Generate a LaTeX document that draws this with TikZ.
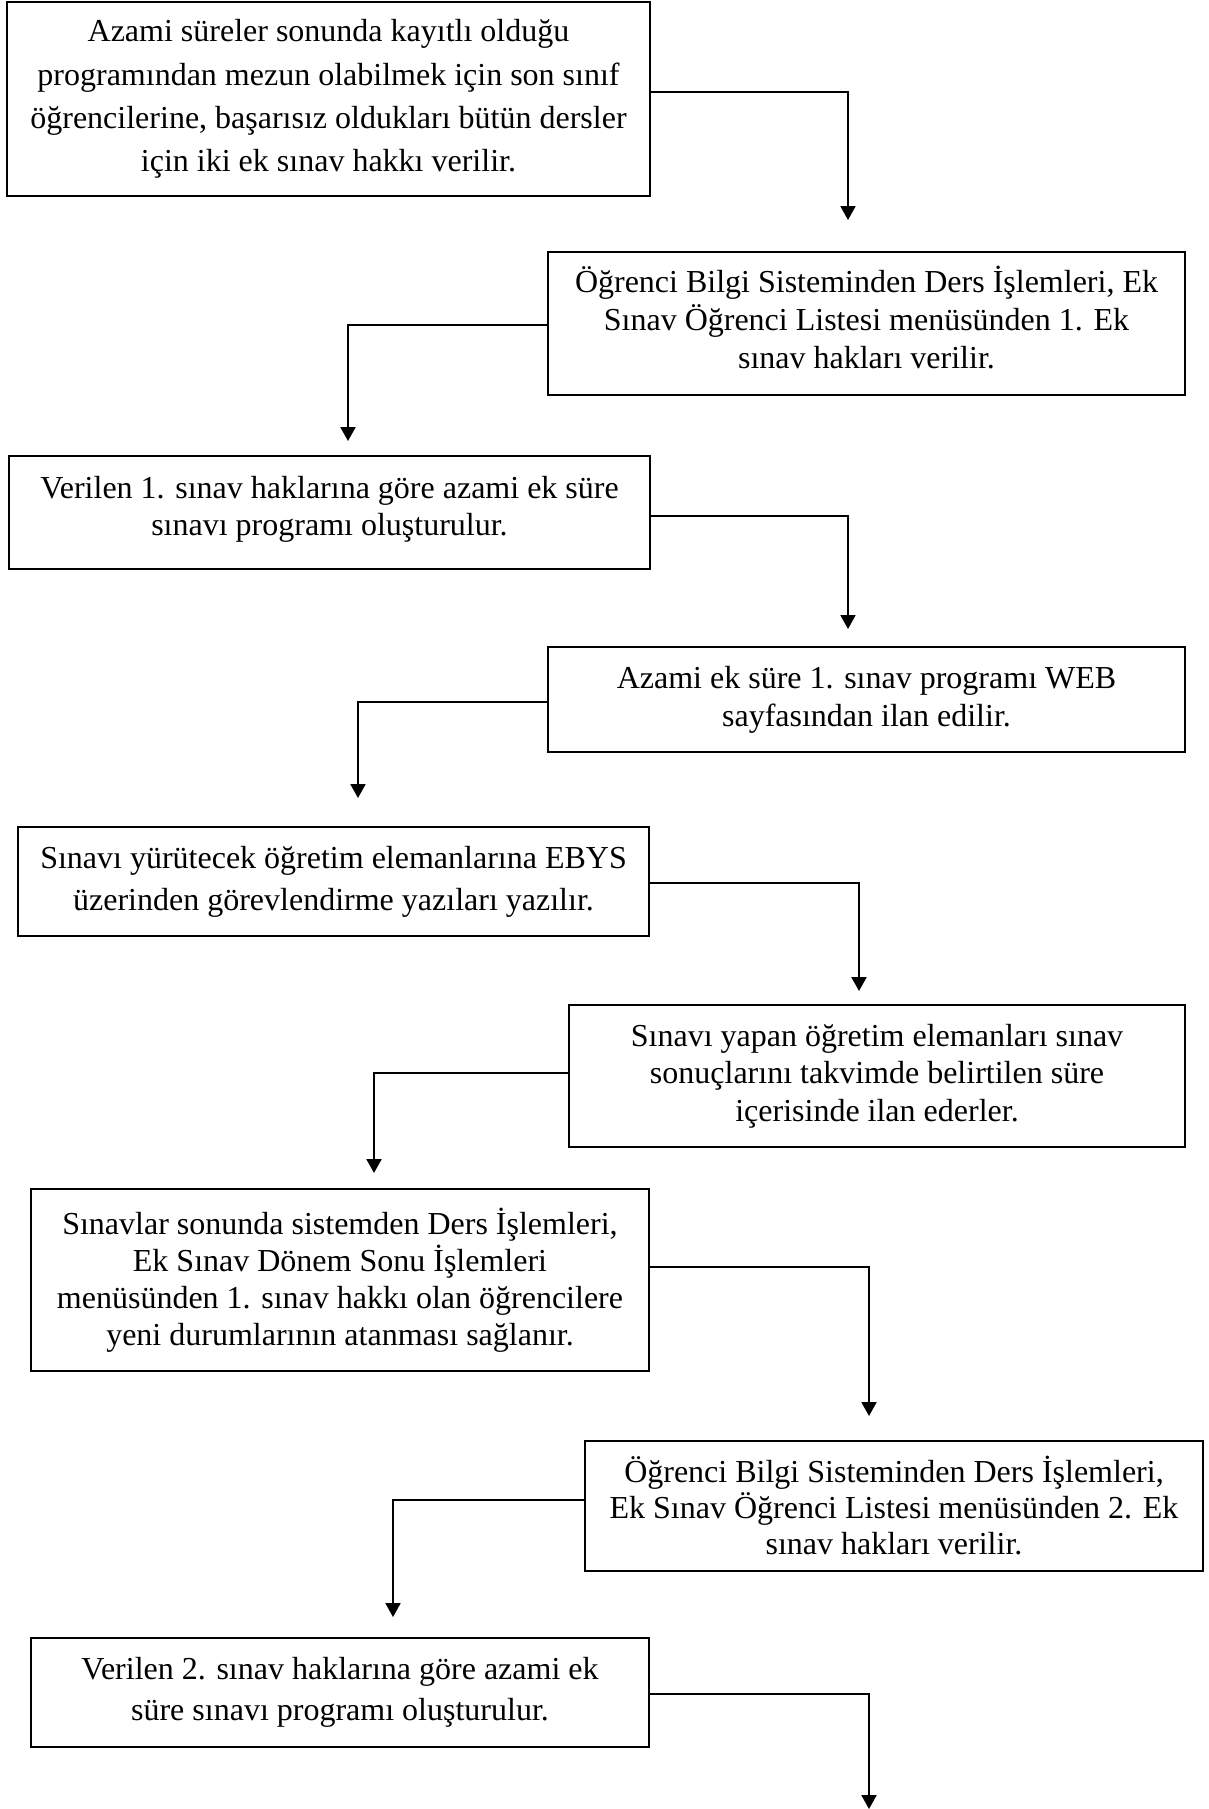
\documentclass[tikz,border=0pt]{standalone}
\usepackage{fontspec}
\setmainfont{Liberation Serif}
\usetikzlibrary{arrows.meta}
\newcommand{\lift}[1]{\rule[-#1]{0pt}{0pt}}
\begin{document}
\begin{tikzpicture}[x=0.375pt,y=-0.375pt,
  procbox/.style={draw=black,line width=0.9pt,inner sep=0pt,align=center,fill=white},
  lskip/.style={font=\fontsize{12pt}{#1}\selectfont},
  arr/.style={line width=0.75pt,-{Triangle[width=5.6pt,length=5.2pt]}}]
\useasboundingbox (0,0) rectangle (1208,1809);
\node[procbox,lskip=16.2pt,minimum width=241.1pt,minimum height=72.75pt] (b1) at (328.5,99)
 {Azami süreler sonunda kayıtlı olduğu\\programından mezun olabilmek için son sınıf\\öğrencilerine, başarısız oldukları bütün dersler\\için iki ek sınav hakkı verilir.};
\node[procbox,lskip=14.2pt,minimum width=238.9pt,minimum height=53.6pt] (b2) at (866.5,323.5)
 {Öğrenci Bilgi Sisteminden Ders İşlemleri, Ek\\Sınav Öğrenci Listesi menüsünden 1. Ek\\sınav hakları verilir.\lift{4.8pt}};
\node[procbox,lskip=13.8pt,minimum width=240.4pt,minimum height=42.4pt] (b3) at (329.5,512.5)
 {Verilen 1. sınav haklarına göre azami ek süre\\sınavı programı oluşturulur.\lift{5.2pt}};
\node[procbox,lskip=14.2pt,minimum width=238.9pt,minimum height=39.4pt] (b4) at (866.5,699.5)
 {Azami ek süre 1. sınav programı WEB\\sayfasından ilan edilir.};
\node[procbox,lskip=15.8pt,minimum width=236.6pt,minimum height=40.9pt] (b5) at (333.5,881.5)
 {Sınavı yürütecek öğretim elemanlarına EBYS\\üzerinden görevlendirme yazıları yazılır.};
\node[procbox,lskip=14.0pt,minimum width=231pt,minimum height=53.25pt] (b6) at (877,1076)
 {Sınavı yapan öğretim elemanları sınav\\sonuçlarını takvimde belirtilen süre\\içerisinde ilan ederler.};
\node[procbox,lskip=13.9pt,minimum width=231.75pt,minimum height=68.25pt] (b7) at (340,1280)
 {Sınavlar sonunda sistemden Ders İşlemleri,\\Ek Sınav Dönem Sonu İşlemleri\\menüsünden 1. sınav hakkı olan öğrencilere\\yeni durumlarının atanması sağlanır.};
\node[procbox,lskip=13.5pt,minimum width=231.75pt,minimum height=48.75pt] (b8) at (894,1506)
 {Öğrenci Bilgi Sisteminden Ders İşlemleri,\\Ek Sınav Öğrenci Listesi menüsünden 2. Ek\\sınav hakları verilir.};
\node[procbox,lskip=15.5pt,minimum width=231.75pt,minimum height=40.9pt] (b9) at (340,1692.5)
 {Verilen 2. sınav haklarına göre azami ek\\süre sınavı programı oluşturulur.};
\coordinate (e1) at (848,220);
\coordinate (e2) at (348,441);
\coordinate (e3) at (848,629);
\coordinate (e4) at (358,798);
\coordinate (e5) at (859,991);
\coordinate (e6) at (374,1173);
\coordinate (e7) at (869,1416);
\coordinate (e8) at (393,1617);
\coordinate (e9) at (869,1809);
\draw[arr] ([yshift=2.6pt]b1.east) -| (e1);
\draw[arr] ([yshift=-0.6pt]b2.west) -| (e2);
\draw[arr] ([yshift=-1.3pt]b3.east) -| (e3);
\draw[arr] ([yshift=-0.9pt]b4.west) -| (e4);
\draw[arr] ([yshift=-0.6pt]b5.east) -| (e5);
\draw[arr] ([yshift=1.1pt]b6.west) -| (e6);
\draw[arr] ([yshift=4.9pt]b7.east) -| (e7);
\draw[arr] ([yshift=2.2pt]b8.west) -| (e8);
\draw[arr] ([yshift=-0.6pt]b9.east) -| (e9);
\end{tikzpicture}
\end{document}
